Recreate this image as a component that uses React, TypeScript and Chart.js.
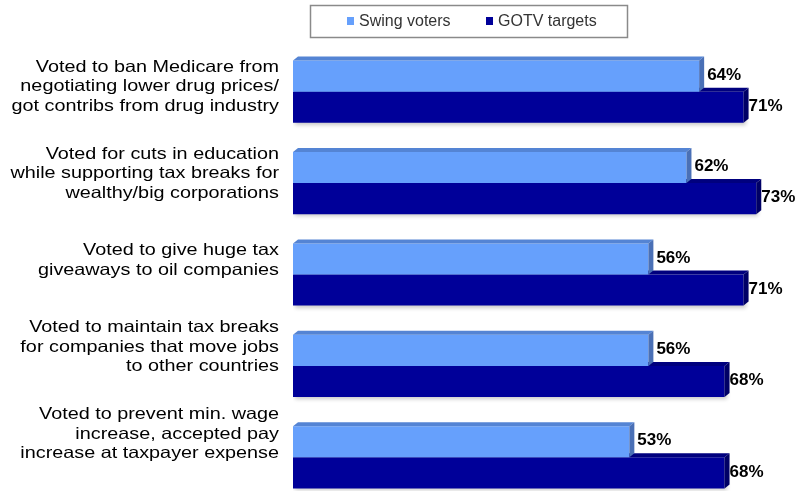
import React, { useEffect, useRef } from "react";
import { Chart, registerables } from "chart.js";

Chart.register(...registerables);

const categories = [
  ["Voted to ban Medicare from", "negotiating lower drug prices/", "got contribs from drug industry"],
  ["Voted for cuts in education", "while supporting tax breaks for", "wealthy/big corporations"],
  ["Voted to give huge tax", "giveaways to oil companies"],
  ["Voted to maintain tax breaks", "for companies that move jobs", "to other countries"],
  ["Voted to prevent min. wage", "increase, accepted pay", "increase at taxpayer expense"],
];
const seriesNames = ["Swing voters", "GOTV targets"];
const swingVoters = [64, 62, 56, 56, 53];
const gotvTargets = [71, 73, 71, 68, 68];

const FONT = "'Liberation Sans', Arial, Helvetica, sans-serif";
const frontColors = ["#66a0fc", "#000099"];
const faceColors = [
  { top: "#5484d4", side: "#4a70b6" },
  { top: "#00007e", side: "#000066" },
];
const labelGap = [3, 0];
const DX = 5;
const DY = 4;
const AXIS_W = 293;

const bar3d = {
  id: "bar3d",
  beforeDatasetDraw(chart: any, args: any) {
    const ctx = chart.ctx;
    ctx.save();
    if (args.index === 1) {
      ctx.shadowColor = "rgba(0,0,0,0.22)";
      ctx.shadowBlur = 4;
      ctx.shadowOffsetX = 2;
      ctx.shadowOffsetY = 2;
    }
  },
  afterDatasetDraw(chart: any, args: any) {
    const ctx = chart.ctx;
    ctx.restore();
    const fc = faceColors[args.index];
    args.meta.data.forEach((el: any) => {
      const { x, y, base, height } = el.getProps(["x", "y", "base", "height"], true);
      const top = y - height / 2;
      const bottom = y + height / 2;
      const x0 = base;
      const x1 = x;
      ctx.save();
      ctx.fillStyle = fc.top;
      ctx.beginPath();
      ctx.moveTo(x0, top);
      ctx.lineTo(x0 + DX, top - DY);
      ctx.lineTo(x1 + DX, top - DY);
      ctx.lineTo(x1, top);
      ctx.closePath();
      ctx.fill();
      ctx.fillStyle = fc.side;
      ctx.beginPath();
      ctx.moveTo(x1, top);
      ctx.lineTo(x1 + DX, top - DY);
      ctx.lineTo(x1 + DX, bottom - DY);
      ctx.lineTo(x1, bottom);
      ctx.closePath();
      ctx.fill();
      ctx.restore();
    });
  },
};

const valueLabels = {
  id: "valueLabels",
  afterDatasetsDraw(chart: any) {
    const ctx = chart.ctx;
    ctx.save();
    ctx.font = `bold 17px ${FONT}`;
    ctx.fillStyle = "#000";
    ctx.textAlign = "left";
    ctx.textBaseline = "middle";
    chart.data.datasets.forEach((ds: any, i: number) => {
      const meta = chart.getDatasetMeta(i);
      meta.data.forEach((el: any, j: number) => {
        const { x, y } = el.getProps(["x", "y"], true);
        ctx.fillText(ds.data[j] + "%", x + DX + labelGap[i], y - 1);
      });
    });
    ctx.restore();
  },
};

// Category labels: the source text is horizontally stretched, so draw it scaled.
const categoryLabels = {
  id: "categoryLabels",
  afterDraw(chart: any) {
    const ctx = chart.ctx;
    const yScale = chart.scales.y;
    const lineH = 19.5;
    ctx.save();
    ctx.font = `16.5px ${FONT}`;
    ctx.fillStyle = "#000";
    ctx.textAlign = "right";
    ctx.textBaseline = "alphabetic";
    categories.forEach((lines, i) => {
      const c = yScale.getPixelForValue(i) * 0.951 - 2;
      lines.forEach((line, k) => {
        const baseline = c + (k - (lines.length - 1) / 2) * lineH + 6;
        ctx.save();
        ctx.translate(AXIS_W - 14, baseline);
        ctx.scale(1.2, 1);
        ctx.fillText(line, 0, 0);
        ctx.restore();
      });
    });
    ctx.restore();
  },
};

const boxLegend = {
  id: "boxLegend",
  afterDraw(chart: any) {
    const ctx = chart.ctx;
    ctx.save();
    ctx.strokeStyle = "#8a8a8a";
    ctx.lineWidth = 1.5;
    ctx.strokeRect(310.5, 5.5, 317, 32);
    ctx.font = `16px ${FONT}`;
    ctx.textBaseline = "middle";
    ctx.textAlign = "left";
    const items = [
      { sq: 347, tx: 359 },
      { sq: 486, tx: 498 },
    ];
    seriesNames.forEach((name, i) => {
      ctx.fillStyle = frontColors[i];
      ctx.fillRect(items[i].sq, 17, 7, 8);
      ctx.fillStyle = "#333";
      ctx.fillText(name, items[i].tx, 21.5);
    });
    ctx.restore();
  },
};

export default function App() {
  const ref = useRef<HTMLCanvasElement | null>(null);
  useEffect(() => {
    if (!ref.current) return;
    const chart = new Chart(ref.current, {
      type: "bar",
      data: {
        labels: categories.map((c) => c.join(" ")),
        datasets: [
          {
            label: seriesNames[0],
            data: swingVoters,
            backgroundColor: frontColors[0],
            borderWidth: 0,
            barPercentage: 1,
            categoryPercentage: 0.68,
          },
          {
            label: seriesNames[1],
            data: gotvTargets,
            backgroundColor: frontColors[1],
            borderWidth: 0,
            barPercentage: 1,
            categoryPercentage: 0.68,
          },
        ],
      },
      options: {
        indexAxis: "y",
        responsive: false,
        animation: false,
        layout: { padding: { top: 46, bottom: 3, left: 0, right: 9 } },
        plugins: {
          legend: { display: false },
          tooltip: { enabled: false },
        },
        scales: {
          x: {
            display: false,
            min: 0,
            max: 78,
          },
          y: {
            grid: { display: false, drawTicks: false },
            border: { display: false },
            afterFit: (scale: any) => {
              scale.width = AXIS_W;
            },
            ticks: { display: false },
          },
        },
      },
      plugins: [bar3d, valueLabels, categoryLabels, boxLegend],
    });
    return () => chart.destroy();
  }, []);
  return (
    <div style={{ position: "absolute", left: 0, top: 0, width: 797, height: 491, overflow: "hidden", background: "#fff" }}>
      <canvas ref={ref} width={797} height={506} style={{ display: "block" }} />
    </div>
  );
}
